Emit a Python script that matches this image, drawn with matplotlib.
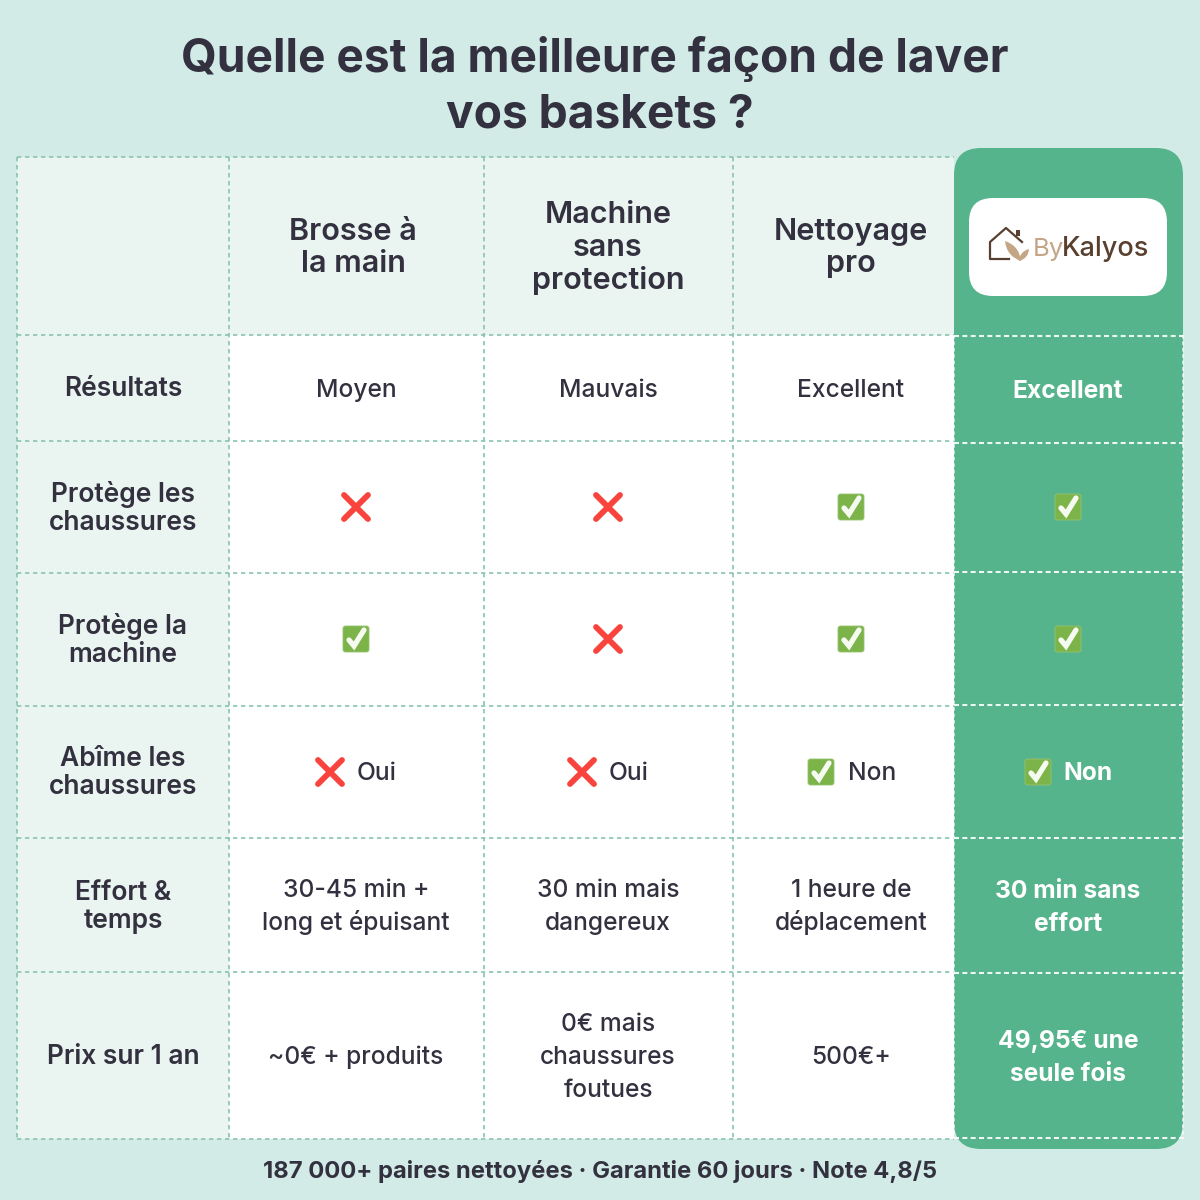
import matplotlib
matplotlib.use("Agg")
import matplotlib.pyplot as plt
from matplotlib.patches import FancyBboxPatch, Rectangle, PathPatch
from matplotlib.path import Path

FONT = "Inter"
DARK = "#33313f"
BG = "#d2ebe6"
GREEN = "#55b48c"
HEAD = "#eaf4f0"
LINE = "#8ac3ae"

title_lines = ["Quelle est la meilleure façon de laver", "vos baskets ?"]
footer = "187 000+ paires nettoyées · Garantie 60 jours · Note 4,8/5"
columns = ["Brosse à\nla main", "Machine\nsans\nprotection", "Nettoyage\npro"]
row_labels = ["Résultats", "Protège les\nchaussures", "Protège la\nmachine",
              "Abîme les\nchaussures", "Effort &\ntemps", "Prix sur 1 an"]
col_brosse = ["Moyen", "x", "v", "x Oui", "30-45 min +\nlong et épuisant", "~0€ + produits"]
col_machine = ["Mauvais", "x", "x", "x Oui", "30 min mais\ndangereux", "0€ mais\nchaussures\nfoutues"]
col_pro = ["Excellent", "v", "v", "v Non", "1 heure de\ndéplacement", "500€+"]
col_brand = ["Excellent", "v", "v", "v Non", "30 min sans\neffort", "49,95€ une\nseule fois"]

col_edges = [17, 229, 484, 733, 954, 1183]
row_edges = [157, 335, 441, 573, 706, 838, 972, 1139]
brand_edges = [336, 443, 572, 705, 838, 973, 1138]
col_centers = [123, 356, 608, 851, 1068]
row_centers = [388, 507, 639, 771, 905, 1055]

fig = plt.figure(figsize=(12, 12), dpi=100, facecolor=BG)
ax = fig.add_axes([0, 0, 1, 1])
ax.set_xlim(0, 1200)
ax.set_ylim(1200, 0)
ax.axis("off")


def txt(x, y, s, size, weight="medium", color=DARK, pitch=33):
    """Centre a block of lines on y with a fixed pitch between baselines."""
    lines = s.split("\n")
    top = y - pitch * (len(lines) - 1) / 2
    base = 0.36 * size * 100 / 72
    for i, line in enumerate(lines):
        ax.text(x, top + i * pitch + base, line, fontsize=size, fontweight=weight, color=color,
                ha="center", va="baseline", family=FONT, zorder=6)


def cross(x, y, r=12):
    for sx in (1, -1):
        ax.plot([x - r, x + r], [y - sx * r, y + sx * r], color="#f9443e", lw=4.2,
                solid_capstyle="round", zorder=6)


def check(x, y, r=13):
    ax.add_patch(FancyBboxPatch((x - r + 1.5, y - r + 1.5), 2 * r - 3, 2 * r - 3,
                                boxstyle="round,pad=1.5,rounding_size=2.5",
                                fc="#7cb44a", ec="#96c46e", lw=0.6, zorder=6))
    ax.plot([x - 7, x - 2, x + 8], [y + 1, y + 7, y - 9], color="#f6fbf2", lw=3.8,
            solid_capstyle="round", solid_joinstyle="miter", zorder=7)


def leaf(x0, y0, x1, y1, bulge, color):
    nx, ny = -(y1 - y0), (x1 - x0)
    mx, my = (x0 + x1) / 2, (y0 + y1) / 2
    verts = [(x0, y0), (mx + nx * bulge, my + ny * bulge), (x1, y1),
             (mx - nx * bulge, my - ny * bulge), (x0, y0)]
    codes = [Path.MOVETO, Path.CURVE3, Path.CURVE3, Path.CURVE3, Path.CURVE3]
    ax.add_patch(PathPatch(Path(verts, codes), fc=color, ec="none", zorder=6))


# header and label tints
ax.add_patch(Rectangle((col_edges[0], row_edges[0]), col_edges[4] - col_edges[0],
                       row_edges[1] - row_edges[0], fc=HEAD, ec="none", zorder=1))
ax.add_patch(Rectangle((col_edges[0], row_edges[1]), col_edges[1] - col_edges[0],
                       row_edges[-1] - row_edges[1], fc=HEAD, ec="none", zorder=1))
ax.add_patch(Rectangle((col_edges[1], row_edges[1]), col_edges[4] - col_edges[1],
                       row_edges[-1] - row_edges[1], fc="white", ec="none", zorder=1))

# grid of dashed lines
dash = (0, (2.6, 2.2))
for y in row_edges:
    ax.plot([col_edges[0], col_edges[4]], [y, y], color=LINE, lw=1.2, ls=dash, zorder=2)
for x in col_edges[:4]:
    ax.plot([x, x], [row_edges[0], row_edges[-1]], color=LINE, lw=1.2, ls=dash, zorder=2)

# highlighted column
ax.add_patch(FancyBboxPatch((954, 148), 229, 1001, boxstyle="round,pad=0,rounding_size=27",
                            fc=GREEN, ec="none", zorder=3))
for y in brand_edges:
    ax.plot([954, 1183], [y, y], color="white", lw=1.5, ls=(0, (2.4, 1.6)),
            alpha=0.9, zorder=4)
for x in (954, 1183):
    ax.plot([x, x], [row_edges[1], row_edges[-1]], color="white", lw=1.1,
            ls=(0, (2.4, 1.8)), alpha=0.8, zorder=4)

# logo
ax.add_patch(FancyBboxPatch((969, 198), 198, 98, boxstyle="round,pad=0,rounding_size=24",
                            fc="white", ec="none", zorder=5))
BROWN = "#59402e"
TAN = "#c4a585"
ax.plot([1009, 990, 990, 1006, 1022], [259, 259, 242, 228, 242], color=BROWN, lw=1.6, zorder=6)
ax.add_patch(Rectangle((1016, 230), 4, 6, fc=BROWN, ec="none", zorder=6))
leaf(1005, 241, 1021, 261, 0.32, TAN)
leaf(1019, 261, 1029, 249, 0.36, TAN)
ax.text(1033, 256, "By", fontsize=18.5, color=TAN, family=FONT, va="baseline", ha="left",
        zorder=6, fontweight="normal")
ax.text(1062, 256, "Kalyos", fontsize=19.5, color=BROWN, family=FONT, va="baseline", ha="left",
        zorder=6, fontweight="medium")

# title and footer
txt(595, 55, title_lines[0], 33.2, "bold")
txt(600, 111, title_lines[1], 33.2, "bold")
txt(600, 1169, footer, 17.1, "bold")

# headers
header_x = [353, 608, 851]
for cx, s in zip(header_x, columns):
    txt(cx, 245, s, 22, "semibold")

# row labels
for s, y in zip(row_labels, [387, 506, 638, 771, 905, 1054]):
    txt(123, y, s, 19, "semibold", pitch=28)


def draw_cell(cx, y, value, brand):
    color = "white" if brand else DARK
    weight = "bold" if brand else "medium"
    size = 17.7
    if value == "x":
        cross(cx, y)
    elif value == "v":
        check(cx, y)
    elif value[:2] in ("x ", "v "):
        mark, word = value.split(" ")
        if mark == "x":
            cross(cx - 26, y + 1)
        else:
            check(cx - 30, y + 1)
        txt(cx + 21 - (1 if brand else 0), y, word, size, weight, color)
    else:
        txt(cx, y + (1 if brand else 0), value, size, weight, color)


for cx, vals, brand in zip(col_centers[1:], [col_brosse, col_machine, col_pro, col_brand],
                           [False, False, False, True]):
    for v, y in zip(vals, row_centers):
        draw_cell(cx, y, v, brand)

fig.savefig("out.png", dpi=100, facecolor=BG)
